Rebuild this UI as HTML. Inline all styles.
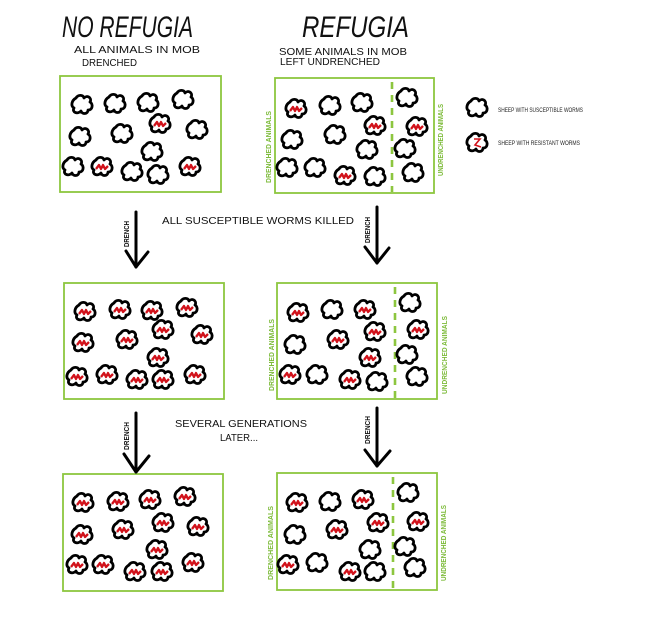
<!DOCTYPE html>
<html><head><meta charset="utf-8"><style>
html,body{margin:0;padding:0;background:#fff;}
svg{display:block;}
text{font-family:"Liberation Sans",sans-serif;}
</style></head><body>
<svg width="648" height="643" viewBox="0 0 648 643" xmlns="http://www.w3.org/2000/svg">
<defs>
<path id="s" d="M-6,-7 C-4,-10.5 1,-10.5 2,-7 C5,-10.5 10.5,-7 8,-3 C11.5,-1 10.5,5.5 6,5 C6,9.5 0,9.5 -1,6 C-4,9.5 -10.5,7.5 -8,3 C-11.5,1 -10.5,-4.5 -6,-7 Z" fill="#fff" stroke="#000" stroke-width="2.8" stroke-linejoin="round"/>
<g id="rs">
<use href="#s"/>
<path d="M-6,2 L-3,-2 L-1,2 L1,-2 L3,2 L6,-1" stroke="#d1121b" stroke-width="2.3" fill="none" stroke-linejoin="round"/>
</g>
</defs>
<rect width="648" height="643" fill="#fff"/>

<!-- Titles -->
<text x="62" y="37" font-size="30" font-style="italic" textLength="131" lengthAdjust="spacingAndGlyphs" fill="#111">NO REFUGIA</text>
<text x="302" y="37" font-size="30" font-style="italic" textLength="107" lengthAdjust="spacingAndGlyphs" fill="#111">REFUGIA</text>
<text x="74" y="53" font-size="10.5" textLength="126" lengthAdjust="spacingAndGlyphs" fill="#111">ALL ANIMALS IN MOB</text>
<text x="82" y="66" font-size="10.5" textLength="55" lengthAdjust="spacingAndGlyphs" fill="#111">DRENCHED</text>
<text x="279" y="55" font-size="10.5" textLength="128" lengthAdjust="spacingAndGlyphs" fill="#111">SOME ANIMALS IN MOB</text>
<text x="280" y="65" font-size="10.5" textLength="100" lengthAdjust="spacingAndGlyphs" fill="#111">LEFT UNDRENCHED</text>

<!-- Boxes -->
<g fill="none" stroke="#8dc63f" stroke-width="1.8">
<rect x="60" y="76" width="161" height="116"/>
<rect x="275" y="78" width="159" height="115"/>
<rect x="64" y="283" width="160" height="116"/>
<rect x="277" y="283" width="160" height="116"/>
<rect x="63" y="474" width="160" height="117"/>
<rect x="277" y="473" width="160" height="117"/>
</g>
<g stroke="#8dc63f" stroke-width="2.6" stroke-dasharray="7 6">
<line x1="392" y1="82" x2="392" y2="192"/>
<line x1="395" y1="287" x2="395" y2="398"/>
<line x1="393" y1="477" x2="393" y2="589"/>
</g>

<!-- side labels -->
<g fill="#7dbb3a" font-size="7" font-weight="bold">
<text transform="translate(271,147) rotate(-90)" text-anchor="middle" textLength="72" lengthAdjust="spacingAndGlyphs">DRENCHED ANIMALS</text>
<text transform="translate(443,140) rotate(-90)" text-anchor="middle" textLength="72" lengthAdjust="spacingAndGlyphs">UNDRENCHED ANIMALS</text>
<text transform="translate(274,355) rotate(-90)" text-anchor="middle" textLength="72" lengthAdjust="spacingAndGlyphs">DRENCHED ANIMALS</text>
<text transform="translate(447,355) rotate(-90)" text-anchor="middle" textLength="78" lengthAdjust="spacingAndGlyphs">UNDRENCHED ANIMALS</text>
<text transform="translate(273,543) rotate(-90)" text-anchor="middle" textLength="74" lengthAdjust="spacingAndGlyphs">DRENCHED ANIMALS</text>
<text transform="translate(446,543) rotate(-90)" text-anchor="middle" textLength="76" lengthAdjust="spacingAndGlyphs">UNDRENCHED ANIMALS</text>
</g>

<!-- Box1 -->
<use href="#s" x="82" y="105"/><use href="#s" x="115" y="104"/><use href="#s" x="148" y="103"/><use href="#s" x="183" y="100"/>
<use href="#s" x="80" y="137"/><use href="#s" x="122" y="134"/><use href="#rs" x="160" y="124"/><use href="#s" x="197" y="130"/>
<use href="#s" x="152" y="152"/><use href="#s" x="73" y="167"/><use href="#rs" x="102" y="167"/><use href="#s" x="132" y="172"/><use href="#s" x="158" y="175"/><use href="#rs" x="190" y="167"/>

<!-- Box2 -->
<use href="#rs" x="296" y="109"/><use href="#s" x="330" y="106"/><use href="#s" x="362" y="103"/><use href="#s" x="407" y="98"/>
<use href="#s" x="292" y="140"/><use href="#s" x="335" y="135"/><use href="#rs" x="375" y="126"/><use href="#rs" x="417" y="127"/>
<use href="#s" x="367" y="150"/><use href="#s" x="405" y="149"/>
<use href="#s" x="287" y="168"/><use href="#s" x="315" y="168"/><use href="#rs" x="345" y="176"/><use href="#s" x="375" y="177"/><use href="#s" x="413" y="173"/>

<!-- Box3 -->
<use href="#rs" x="85" y="312"/><use href="#rs" x="120" y="310"/><use href="#rs" x="152" y="311"/><use href="#rs" x="187" y="308"/>
<use href="#rs" x="83" y="343"/><use href="#rs" x="127" y="340"/><use href="#rs" x="163" y="330"/><use href="#rs" x="202" y="335"/>
<use href="#rs" x="158" y="358"/>
<use href="#rs" x="77" y="377"/><use href="#rs" x="107" y="375"/><use href="#rs" x="137" y="380"/><use href="#rs" x="163" y="380"/><use href="#rs" x="195" y="375"/>

<!-- Box4 -->
<use href="#rs" x="298" y="313"/><use href="#s" x="332" y="310"/><use href="#rs" x="365" y="310"/><use href="#s" x="410" y="303"/>
<use href="#s" x="295" y="345"/><use href="#rs" x="338" y="340"/><use href="#rs" x="375" y="332"/><use href="#rs" x="418" y="330"/>
<use href="#rs" x="370" y="358"/><use href="#s" x="407" y="355"/>
<use href="#rs" x="290" y="375"/><use href="#s" x="317" y="375"/><use href="#rs" x="350" y="380"/><use href="#s" x="377" y="382"/><use href="#s" x="417" y="377"/>

<!-- Box5 -->
<use href="#rs" x="83" y="503"/><use href="#rs" x="118" y="502"/><use href="#rs" x="150" y="500"/><use href="#rs" x="185" y="497"/>
<use href="#rs" x="82" y="535"/><use href="#rs" x="123" y="530"/><use href="#rs" x="163" y="523"/><use href="#rs" x="198" y="527"/>
<use href="#rs" x="157" y="550"/>
<use href="#rs" x="77" y="565"/><use href="#rs" x="103" y="565"/><use href="#rs" x="135" y="572"/><use href="#rs" x="162" y="572"/><use href="#rs" x="193" y="563"/>

<!-- Box6 -->
<use href="#rs" x="297" y="503"/><use href="#s" x="330" y="502"/><use href="#rs" x="363" y="500"/><use href="#s" x="408" y="493"/>
<use href="#s" x="295" y="535"/><use href="#rs" x="337" y="530"/><use href="#rs" x="378" y="523"/><use href="#rs" x="418" y="522"/>
<use href="#s" x="370" y="550"/><use href="#s" x="405" y="547"/>
<use href="#rs" x="288" y="565"/><use href="#s" x="317" y="563"/><use href="#rs" x="350" y="572"/><use href="#s" x="375" y="572"/><use href="#s" x="415" y="568"/>

<!-- Arrows -->
<g stroke="#000" stroke-width="3" fill="none" stroke-linecap="round" stroke-linejoin="round">
<line x1="136" y1="212" x2="136" y2="267"/><polyline points="126,251 136,267 148,252"/>
<line x1="377" y1="207" x2="377" y2="263"/><polyline points="365,247 377,263 389,248"/>
<line x1="136" y1="413" x2="136" y2="472"/><polyline points="124,454 136,472 149,456"/>
<line x1="377" y1="408" x2="377" y2="466"/><polyline points="365,450 377,466 390,451"/>
</g>
<g fill="#111" font-size="7" font-weight="bold">
<text transform="translate(129,234) rotate(-90)" text-anchor="middle" textLength="26" lengthAdjust="spacingAndGlyphs">DRENCH</text>
<text transform="translate(370,230) rotate(-90)" text-anchor="middle" textLength="26" lengthAdjust="spacingAndGlyphs">DRENCH</text>
<text transform="translate(129,436) rotate(-90)" text-anchor="middle" textLength="28" lengthAdjust="spacingAndGlyphs">DRENCH</text>
<text transform="translate(370,430) rotate(-90)" text-anchor="middle" textLength="28" lengthAdjust="spacingAndGlyphs">DRENCH</text>
</g>

<!-- Middle texts -->
<text x="162" y="224" font-size="10.5" textLength="192" lengthAdjust="spacingAndGlyphs" fill="#111">ALL SUSCEPTIBLE WORMS KILLED</text>
<text x="175" y="427" font-size="10" textLength="132" lengthAdjust="spacingAndGlyphs" fill="#111">SEVERAL GENERATIONS</text>
<text x="220" y="441" font-size="10" textLength="38" lengthAdjust="spacingAndGlyphs" fill="#111">LATER...</text>

<!-- Legend -->
<use href="#s" x="477" y="108"/>
<use href="#s" x="477" y="143"/>
<path d="M474,139 L480,139 L475,145 L481,147" stroke="#d1121b" stroke-width="1.6" fill="none"/>
<text x="498" y="112" font-size="6" textLength="85" lengthAdjust="spacingAndGlyphs" fill="#222">SHEEP WITH SUSCEPTIBLE WORMS</text>
<text x="498" y="145" font-size="6" textLength="82" lengthAdjust="spacingAndGlyphs" fill="#222">SHEEP WITH RESISTANT WORMS</text>
</svg>
</body></html>
